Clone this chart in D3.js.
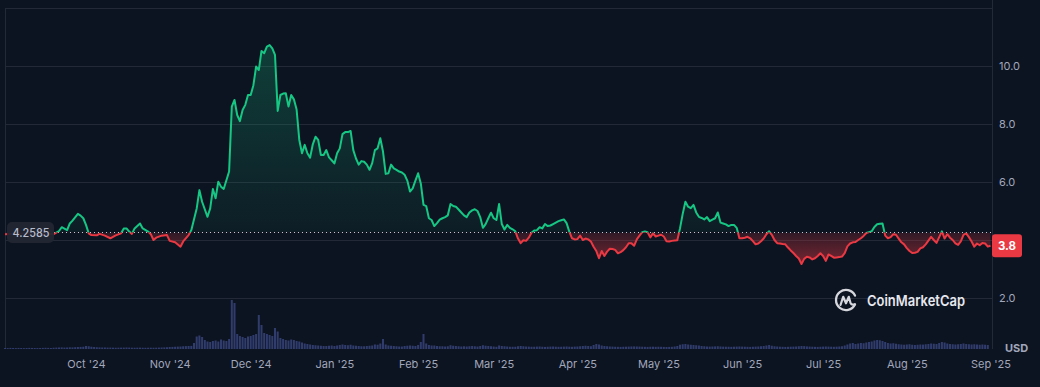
<!DOCTYPE html>
<html>
<head>
<meta charset="utf-8">
<script src="https://cdnjs.cloudflare.com/ajax/libs/d3/7.8.5/d3.min.js"></script>
<style>
  html, body { margin: 0; padding: 0; background: #0d1421; }
  .chart { width: 1040px; height: 387px; }
  text { font-family: Inter, "Noto Sans", sans-serif; }
</style>
</head>
<body>
<div class="chart"></div>
<script>
// Chart values
const basePrice = 4.2585;
const lastPrice = 3.8;
const priceTicks = [2, 4, 6, 8, 10];
const monthTicks = ["2024-10-01", "2024-11-01", "2024-12-01", "2025-01-01", "2025-02-01", "2025-03-01",
  "2025-04-01", "2025-05-01", "2025-06-01", "2025-07-01", "2025-08-01", "2025-09-01"];

const prices = [
  ["2024-09-01", 4.20], ["2024-09-06", 4.22], ["2024-09-11", 4.24], ["2024-09-16", 4.22], ["2024-09-19", 4.20],
  ["2024-09-21", 4.31], ["2024-09-22", 4.44], ["2024-09-24", 4.34], ["2024-09-25", 4.57], ["2024-09-26", 4.67],
  ["2024-09-28", 4.90], ["2024-09-29", 4.84], ["2024-09-30", 4.75], ["2024-10-01", 4.52], ["2024-10-02", 4.23],
  ["2024-10-03", 4.17], ["2024-10-05", 4.16], ["2024-10-06", 4.21], ["2024-10-08", 4.15], ["2024-10-10", 4.06],
  ["2024-10-12", 4.16], ["2024-10-14", 4.23], ["2024-10-15", 4.40], ["2024-10-16", 4.40], ["2024-10-17", 4.29],
  ["2024-10-18", 4.21], ["2024-10-19", 4.40], ["2024-10-21", 4.57], ["2024-10-22", 4.40], ["2024-10-24", 4.29],
  ["2024-10-25", 4.20], ["2024-10-26", 4.00], ["2024-10-27", 4.08], ["2024-10-29", 4.15], ["2024-10-31", 4.17],
  ["2024-11-01", 3.97], ["2024-11-03", 3.92], ["2024-11-05", 3.77], ["2024-11-06", 3.95], ["2024-11-08", 4.17],
  ["2024-11-09", 4.34], ["2024-11-11", 5.09], ["2024-11-12", 5.72], ["2024-11-13", 5.32], ["2024-11-15", 4.80],
  ["2024-11-16", 5.09], ["2024-11-17", 5.76], ["2024-11-18", 5.44], ["2024-11-19", 6.01], ["2024-11-20", 5.84],
  ["2024-11-21", 5.76], ["2024-11-23", 6.36], ["2024-11-24", 8.60], ["2024-11-25", 8.83], ["2024-11-26", 8.31],
  ["2024-11-27", 8.10], ["2024-11-28", 8.48], ["2024-11-29", 8.66], ["2024-11-30", 9.00], ["2024-12-01", 9.00],
  ["2024-12-02", 9.34], ["2024-12-03", 9.98], ["2024-12-04", 9.86], ["2024-12-05", 10.52], ["2024-12-06", 10.44],
  ["2024-12-07", 10.67], ["2024-12-08", 10.72], ["2024-12-09", 10.61], ["2024-12-10", 10.38], ["2024-12-11", 8.45],
  ["2024-12-12", 9.00], ["2024-12-13", 9.05], ["2024-12-14", 9.06], ["2024-12-15", 8.60], ["2024-12-16", 9.00],
  ["2024-12-17", 8.85], ["2024-12-18", 8.50], ["2024-12-19", 7.45], ["2024-12-20", 6.99], ["2024-12-21", 7.28],
  ["2024-12-22", 6.99], ["2024-12-23", 6.84], ["2024-12-24", 7.30], ["2024-12-25", 7.56], ["2024-12-26", 7.45],
  ["2024-12-27", 6.93], ["2024-12-28", 6.93], ["2024-12-29", 7.10], ["2024-12-30", 6.85], ["2024-12-31", 6.75],
  ["2025-01-01", 6.64], ["2025-01-02", 6.99], ["2025-01-03", 7.16], ["2025-01-04", 7.65], ["2025-01-05", 7.72],
  ["2025-01-06", 7.72], ["2025-01-07", 7.76], ["2025-01-08", 7.10], ["2025-01-09", 6.81], ["2025-01-10", 6.60],
  ["2025-01-11", 6.72], ["2025-01-12", 6.70], ["2025-01-13", 6.60], ["2025-01-14", 6.42], ["2025-01-15", 6.65],
  ["2025-01-16", 7.10], ["2025-01-17", 7.16], ["2025-01-18", 7.51], ["2025-01-19", 7.05], ["2025-01-20", 6.28],
  ["2025-01-21", 6.30], ["2025-01-22", 6.60], ["2025-01-23", 6.47], ["2025-01-24", 6.42], ["2025-01-25", 6.36],
  ["2025-01-26", 6.33], ["2025-01-27", 6.25], ["2025-01-28", 6.05], ["2025-01-29", 5.67], ["2025-01-30", 5.78],
  ["2025-01-31", 6.05], ["2025-02-01", 6.30], ["2025-02-02", 5.95], ["2025-02-03", 5.21], ["2025-02-04", 5.17],
  ["2025-02-05", 4.75], ["2025-02-06", 4.69], ["2025-02-07", 4.48], ["2025-02-08", 4.58], ["2025-02-09", 4.70],
  ["2025-02-10", 4.75], ["2025-02-11", 4.79], ["2025-02-12", 4.85], ["2025-02-13", 5.24], ["2025-02-14", 5.17],
  ["2025-02-15", 5.15], ["2025-02-16", 5.05], ["2025-02-17", 4.95], ["2025-02-18", 4.85], ["2025-02-19", 4.79],
  ["2025-02-20", 4.95], ["2025-02-21", 5.02], ["2025-02-22", 5.06], ["2025-02-23", 5.00], ["2025-02-24", 4.79],
  ["2025-02-25", 4.42], ["2025-02-26", 4.55], ["2025-02-27", 4.75], ["2025-02-28", 4.94], ["2025-03-01", 4.75],
  ["2025-03-02", 4.69], ["2025-03-03", 5.24], ["2025-03-04", 4.55], ["2025-03-05", 4.36], ["2025-03-06", 4.52],
  ["2025-03-07", 4.42], ["2025-03-08", 4.37], ["2025-03-09", 4.30], ["2025-03-10", 4.05], ["2025-03-11", 3.89],
  ["2025-03-12", 3.99], ["2025-03-13", 3.97], ["2025-03-14", 4.08], ["2025-03-15", 4.25], ["2025-03-16", 4.33],
  ["2025-03-17", 4.34], ["2025-03-18", 4.44], ["2025-03-19", 4.40], ["2025-03-20", 4.55], ["2025-03-21", 4.48],
  ["2025-03-22", 4.50], ["2025-03-23", 4.55], ["2025-03-24", 4.60], ["2025-03-25", 4.65], ["2025-03-26", 4.68],
  ["2025-03-27", 4.71], ["2025-03-28", 4.58], ["2025-03-29", 4.29], ["2025-03-30", 4.06], ["2025-03-31", 4.02],
  ["2025-04-01", 4.03], ["2025-04-02", 4.15], ["2025-04-03", 4.00], ["2025-04-04", 4.05], ["2025-04-05", 4.02],
  ["2025-04-06", 3.95], ["2025-04-07", 3.77], ["2025-04-08", 3.62], ["2025-04-09", 3.37], ["2025-04-10", 3.62],
  ["2025-04-11", 3.45], ["2025-04-12", 3.60], ["2025-04-13", 3.70], ["2025-04-14", 3.69], ["2025-04-15", 3.66],
  ["2025-04-16", 3.54], ["2025-04-17", 3.58], ["2025-04-18", 3.65], ["2025-04-19", 3.75], ["2025-04-20", 3.89],
  ["2025-04-21", 3.89], ["2025-04-22", 3.80], ["2025-04-23", 4.02], ["2025-04-24", 4.15], ["2025-04-25", 4.27],
  ["2025-04-26", 4.29], ["2025-04-27", 4.27], ["2025-04-28", 4.09], ["2025-04-29", 4.23], ["2025-04-30", 4.12],
  ["2025-05-01", 4.15], ["2025-05-02", 4.18], ["2025-05-03", 4.12], ["2025-05-04", 3.96], ["2025-05-05", 3.95],
  ["2025-05-06", 3.97], ["2025-05-07", 3.98], ["2025-05-08", 3.99], ["2025-05-09", 4.40], ["2025-05-10", 4.90],
  ["2025-05-11", 5.32], ["2025-05-12", 5.15], ["2025-05-13", 5.10], ["2025-05-14", 5.21], ["2025-05-15", 4.95],
  ["2025-05-16", 4.80], ["2025-05-17", 4.76], ["2025-05-18", 4.71], ["2025-05-19", 4.79], ["2025-05-20", 4.65],
  ["2025-05-21", 4.70], ["2025-05-22", 4.75], ["2025-05-23", 4.95], ["2025-05-24", 4.60], ["2025-05-25", 4.57],
  ["2025-05-26", 4.54], ["2025-05-27", 4.48], ["2025-05-28", 4.52], ["2025-05-29", 4.52], ["2025-05-30", 4.42],
  ["2025-05-31", 4.06], ["2025-06-01", 4.06], ["2025-06-02", 4.08], ["2025-06-03", 4.11], ["2025-06-04", 4.06],
  ["2025-06-05", 3.96], ["2025-06-06", 3.85], ["2025-06-07", 3.88], ["2025-06-08", 3.96], ["2025-06-09", 4.05],
  ["2025-06-10", 4.20], ["2025-06-11", 4.30], ["2025-06-12", 4.18], ["2025-06-13", 4.00], ["2025-06-14", 3.89],
  ["2025-06-15", 3.88], ["2025-06-16", 3.86], ["2025-06-17", 3.85], ["2025-06-18", 3.74], ["2025-06-19", 3.64],
  ["2025-06-20", 3.55], ["2025-06-21", 3.45], ["2025-06-22", 3.36], ["2025-06-23", 3.17], ["2025-06-24", 3.35],
  ["2025-06-25", 3.42], ["2025-06-26", 3.40], ["2025-06-27", 3.33], ["2025-06-28", 3.37], ["2025-06-29", 3.45],
  ["2025-06-30", 3.54], ["2025-07-01", 3.45], ["2025-07-02", 3.28], ["2025-07-03", 3.50], ["2025-07-04", 3.45],
  ["2025-07-05", 3.39], ["2025-07-06", 3.40], ["2025-07-07", 3.41], ["2025-07-08", 3.43], ["2025-07-09", 3.55],
  ["2025-07-10", 3.78], ["2025-07-11", 3.88], ["2025-07-12", 3.92], ["2025-07-13", 3.93], ["2025-07-14", 4.00],
  ["2025-07-15", 4.06], ["2025-07-16", 4.14], ["2025-07-17", 4.24], ["2025-07-18", 4.27], ["2025-07-19", 4.30],
  ["2025-07-20", 4.45], ["2025-07-21", 4.54], ["2025-07-22", 4.56], ["2025-07-23", 4.57], ["2025-07-24", 4.15],
  ["2025-07-25", 4.06], ["2025-07-26", 4.10], ["2025-07-27", 4.20], ["2025-07-28", 4.18], ["2025-07-29", 4.05],
  ["2025-07-30", 3.92], ["2025-07-31", 3.85], ["2025-08-01", 3.72], ["2025-08-02", 3.62], ["2025-08-03", 3.55],
  ["2025-08-04", 3.56], ["2025-08-05", 3.59], ["2025-08-06", 3.71], ["2025-08-07", 3.75], ["2025-08-08", 3.85],
  ["2025-08-09", 3.98], ["2025-08-10", 4.11], ["2025-08-11", 4.00], ["2025-08-12", 3.90], ["2025-08-13", 4.10],
  ["2025-08-14", 4.30], ["2025-08-15", 4.05], ["2025-08-16", 4.20], ["2025-08-17", 4.08], ["2025-08-18", 4.00],
  ["2025-08-19", 3.88], ["2025-08-20", 3.83], ["2025-08-21", 3.95], ["2025-08-22", 4.18], ["2025-08-23", 4.23],
  ["2025-08-24", 4.10], ["2025-08-25", 3.95], ["2025-08-26", 3.77], ["2025-08-27", 3.88], ["2025-08-28", 3.82],
  ["2025-08-29", 3.90], ["2025-08-30", 3.88], ["2025-08-31", 3.77], ["2025-09-01", 3.80]
];

// Daily 24h volume (million USD), one value per day from volumeStart
const volumeStart = "2024-09-01";
const volumes = [
  // Sep 2024
  20, 18, 22, 20, 19, 21, 20, 18, 20, 22, 21, 20, 19, 20, 22, 24, 22, 20, 25, 28, 30, 32, 28, 30, 34, 32, 36, 40, 42, 45,
  // Oct 2024
  60, 55, 45, 40, 35, 32, 30, 30, 28, 28, 26, 25, 26, 27, 28, 30, 28, 26, 25, 26, 27, 25, 24, 25, 26, 25, 26, 28, 30, 32, 35,
  // Nov 2024
  40, 42, 45, 48, 50, 55, 58, 60, 62, 120, 250, 270, 240, 180, 150, 140, 160, 170, 150, 190, 170, 160, 200, 980, 920, 300, 260, 240, 220, 250,
  // Dec 2024
  260, 280, 300, 680, 480, 320, 300, 280, 260, 420, 350, 220, 200, 180, 170, 190, 180, 160, 150, 130, 110, 100, 90, 80, 75, 70, 65, 60, 60, 65, 70,
  // Jan 2025
  60, 70, 80, 90, 80, 75, 85, 70, 65, 60, 55, 55, 60, 65, 70, 90, 85, 110, 200, 90, 70, 65, 60, 55, 50, 50, 60, 65, 70, 65, 60,
  // Feb 2025
  80, 140, 300, 110, 80, 70, 70, 60, 55, 55, 50, 55, 75, 65, 60, 55, 50, 55, 50, 55, 60, 55, 50, 60, 75, 65, 60, 55,
  // Mar 2025
  50, 45, 70, 60, 55, 50, 45, 45, 45, 55, 60, 55, 50, 48, 45, 45, 48, 50, 45, 42, 45, 48, 50, 46, 44, 45, 48, 50, 46, 44, 48,
  // Apr 2025
  50, 55, 60, 65, 60, 55, 80, 100, 90, 70, 60, 55, 50, 48, 45, 44, 42, 45, 46, 48, 50, 52, 50, 48, 46, 44, 42, 45, 46, 44,
  // May 2025
  45, 44, 42, 40, 42, 44, 50, 60, 85, 95, 100, 90, 85, 80, 75, 70, 60, 55, 50, 48, 50, 52, 55, 50, 48, 46, 45, 44, 46, 48, 50,
  // Jun 2025
  48, 46, 44, 42, 45, 48, 50, 55, 60, 70, 80, 65, 55, 50, 46, 44, 42, 44, 46, 48, 50, 55, 60, 58, 52, 48, 46, 44, 42, 45,
  // Jul 2025
  48, 50, 48, 46, 44, 46, 50, 55, 70, 90, 110, 120, 100, 110, 120, 115, 130, 140, 150, 170, 180, 175, 160, 140, 120, 110, 115, 105, 95, 90, 85,
  // Aug 2025
  90, 95, 85, 80, 85, 90, 88, 95, 100, 110, 105, 100, 120, 140, 130, 110, 100, 95, 90, 95, 100, 110, 100, 95, 90, 95, 90, 85, 90, 85, 80
];

function init() {
  const parse = d3.timeParse("%Y-%m-%d");
  const priceData = prices.map((d) => ({ date: parse(d[0]), value: d[1] }));
  const start = parse(volumeStart);
  const volumeData = volumes.map((v, i) => ({ date: d3.timeDay.offset(start, i), value: v }));
  drawChart(priceData, volumeData, parse);
}

function drawChart(priceData, volumeData, parse) {
  const width = 1040;
  const height = 387;
  const plotLeft = 5;
  const plotRight = 992;
  const plotTop = 8;
  const plotBottom = 349;

  const green = "#16c784";
  const red = "#ea3943";
  const gridColor = "#232937";
  const labelColor = "#a1a7bb";

  const svg = d3
    .select(".chart")
    .append("svg")
    .attr("width", width)
    .attr("height", height)
    .style("display", "block")
    .style("background", "#0d1421");

  const xScale = d3
    .scaleTime()
    .domain([parse("2024-09-01"), parse("2025-09-01")])
    .range([plotLeft, 990.5]);

  const yScale = d3.scaleLinear().domain([0, 12]).range([356, 8]);

  const volScale = d3.scaleLinear().domain([0, 1000]).range([plotBottom, 299]);

  const baseY = yScale(basePrice);
  const lastY = yScale(lastPrice);

  // Gridlines
  svg
    .append("g")
    .selectAll("line")
    .data(priceTicks)
    .enter()
    .append("line")
    .attr("x1", plotLeft)
    .attr("x2", plotRight)
    .attr("y1", (d) => Math.round(yScale(d)) + 0.5)
    .attr("y2", (d) => Math.round(yScale(d)) + 0.5)
    .attr("stroke", gridColor)
    .attr("stroke-width", 1);

  // Frame lines
  svg
    .append("line")
    .attr("x1", plotLeft + 0.5)
    .attr("x2", plotLeft + 0.5)
    .attr("y1", plotTop)
    .attr("y2", plotBottom)
    .attr("stroke", gridColor);
  svg
    .append("line")
    .attr("x1", plotRight + 0.5)
    .attr("x2", plotRight + 0.5)
    .attr("y1", 0)
    .attr("y2", plotBottom)
    .attr("stroke", gridColor);
  svg
    .append("line")
    .attr("x1", plotLeft)
    .attr("x2", plotRight)
    .attr("y1", plotTop + 0.5)
    .attr("y2", plotTop + 0.5)
    .attr("stroke", gridColor);

  // Volume bars
  svg
    .append("g")
    .selectAll("rect")
    .data(volumeData)
    .enter()
    .append("rect")
    .attr("x", (d) => xScale(d.date) - 1)
    .attr("width", 2)
    .attr("y", (d) => volScale(d.value))
    .attr("height", (d) => plotBottom - volScale(d.value))
    .attr("fill", "#3a4680")
    .attr("opacity", 0.8);

  // Gradients and clips
  const defs = svg.append("defs");
  const gGreen = defs
    .append("linearGradient")
    .attr("id", "gradGreen")
    .attr("gradientUnits", "userSpaceOnUse")
    .attr("x1", 0)
    .attr("x2", 0)
    .attr("y1", yScale(10.8))
    .attr("y2", baseY);
  gGreen.append("stop").attr("offset", 0).attr("stop-color", green).attr("stop-opacity", 0.24);
  gGreen.append("stop").attr("offset", 1).attr("stop-color", green).attr("stop-opacity", 0.05);

  const gRed = defs
    .append("linearGradient")
    .attr("id", "gradRed")
    .attr("gradientUnits", "userSpaceOnUse")
    .attr("x1", 0)
    .attr("x2", 0)
    .attr("y1", baseY)
    .attr("y2", yScale(3.1));
  gRed.append("stop").attr("offset", 0).attr("stop-color", red).attr("stop-opacity", 0.16);
  gRed.append("stop").attr("offset", 1).attr("stop-color", red).attr("stop-opacity", 0.5);

  defs
    .append("clipPath")
    .attr("id", "clipAbove")
    .append("rect")
    .attr("x", 0)
    .attr("y", 0)
    .attr("width", width)
    .attr("height", baseY);
  defs
    .append("clipPath")
    .attr("id", "clipBelow")
    .append("rect")
    .attr("x", 0)
    .attr("y", baseY)
    .attr("width", width)
    .attr("height", height - baseY);

  const area = d3
    .area()
    .x((d) => xScale(d.date))
    .y0(baseY)
    .y1((d) => yScale(d.value));

  const line = d3
    .line()
    .x((d) => xScale(d.date))
    .y((d) => yScale(d.value));

  svg
    .append("path")
    .datum(priceData)
    .attr("d", area)
    .attr("fill", "url(#gradGreen)")
    .attr("clip-path", "url(#clipAbove)");
  svg
    .append("path")
    .datum(priceData)
    .attr("d", area)
    .attr("fill", "url(#gradRed)")
    .attr("clip-path", "url(#clipBelow)");

  // Baseline (opening price)
  svg
    .append("line")
    .attr("x1", 54)
    .attr("x2", plotRight)
    .attr("y1", baseY)
    .attr("y2", baseY)
    .attr("stroke", "#c3c7d2")
    .attr("stroke-width", 1)
    .attr("stroke-dasharray", "1,3");

  svg
    .append("path")
    .datum(priceData)
    .attr("d", line)
    .attr("fill", "none")
    .attr("stroke", green)
    .attr("stroke-width", 2)
    .attr("stroke-linejoin", "round")
    .attr("clip-path", "url(#clipAbove)");
  svg
    .append("path")
    .datum(priceData)
    .attr("d", line)
    .attr("fill", "none")
    .attr("stroke", red)
    .attr("stroke-width", 2)
    .attr("stroke-linejoin", "round")
    .attr("clip-path", "url(#clipBelow)");

  // Right price axis (labels hidden under the last price tag are skipped)
  const labelTicks = priceTicks.filter((d) => Math.abs(yScale(d) - lastY) > 12);
  const yAxis = svg
    .append("g")
    .attr("transform", `translate(${plotRight},0)`)
    .call(d3.axisRight(yScale).tickValues(labelTicks).tickFormat(d3.format(".1f")).tickSize(0).tickPadding(7));
  yAxis.select(".domain").remove();
  yAxis
    .selectAll("text")
    .attr("fill", labelColor)
    .style("font-size", "11px")
    .style("font-family", "Inter, sans-serif");

  // Bottom date axis
  const xAxis = svg
    .append("g")
    .attr("transform", `translate(0,${plotBottom})`)
    .call(
      d3
        .axisBottom(xScale)
        .tickValues(monthTicks.map(parse))
        .tickFormat(d3.timeFormat("%b '%y"))
        .tickSize(0)
        .tickPadding(11)
    );
  xAxis.select(".domain").remove();
  xAxis
    .selectAll("text")
    .attr("fill", labelColor)
    .style("font-size", "11px")
    .style("font-family", "Inter, sans-serif");

  svg
    .append("text")
    .attr("x", 1005)
    .attr("y", 352)
    .attr("fill", labelColor)
    .style("font-size", "11px")
    .style("font-weight", "700")
    .text("USD");

  // Watermark
  const wm = svg.append("g").attr("transform", "translate(846,300)").attr("opacity", 0.92);
  wm.append("path")
    .attr("d", "M 9 4.4 A 10 10 0 1 1 9 -4.4")
    .attr("fill", "none")
    .attr("stroke", "#e6e8ee")
    .attr("stroke-width", 2.3)
    .attr("stroke-linecap", "round");
  wm.append("path")
    .attr("d", "M -5.5 5 L -2.8 -3.2 L 0 3.3 L 2.8 -3.2 L 4.6 3.3 Q 5.6 5.3 8.6 4.4")
    .attr("fill", "none")
    .attr("stroke", "#e6e8ee")
    .attr("stroke-width", 2.2)
    .attr("stroke-linejoin", "round")
    .attr("stroke-linecap", "round");
  svg
    .append("text")
    .attr("x", 867)
    .attr("y", 305.5)
    .attr("fill", "#e6e8ee")
    .attr("textLength", 98)
    .attr("lengthAdjust", "spacingAndGlyphs")
    .style("font-size", "15px")
    .style("font-weight", "600")
    .text("CoinMarketCap");

  // Opening price label
  svg
    .append("rect")
    .attr("x", 7)
    .attr("y", baseY - 10.5)
    .attr("width", 47)
    .attr("height", 21)
    .attr("rx", 5)
    .attr("fill", "#222633")
    .attr("opacity", 0.95);
  svg
    .append("text")
    .attr("x", 12.5)
    .attr("y", baseY + 4.2)
    .attr("fill", "#b8bccb")
    .attr("textLength", 37)
    .attr("lengthAdjust", "spacingAndGlyphs")
    .style("font-size", "11.5px")
    .style("font-weight", "500")
    .text(basePrice);

  // Last price label
  svg
    .append("rect")
    .attr("x", plotRight)
    .attr("y", lastY - 11.5)
    .attr("width", 30)
    .attr("height", 23)
    .attr("rx", 3)
    .attr("fill", red);
  svg
    .append("text")
    .attr("x", plotRight + 15)
    .attr("y", lastY + 4)
    .attr("text-anchor", "middle")
    .attr("fill", "#ffffff")
    .style("font-size", "11.5px")
    .style("font-weight", "700")
    .text(lastPrice.toFixed(1));
}

init();
</script>
</body>
</html>
